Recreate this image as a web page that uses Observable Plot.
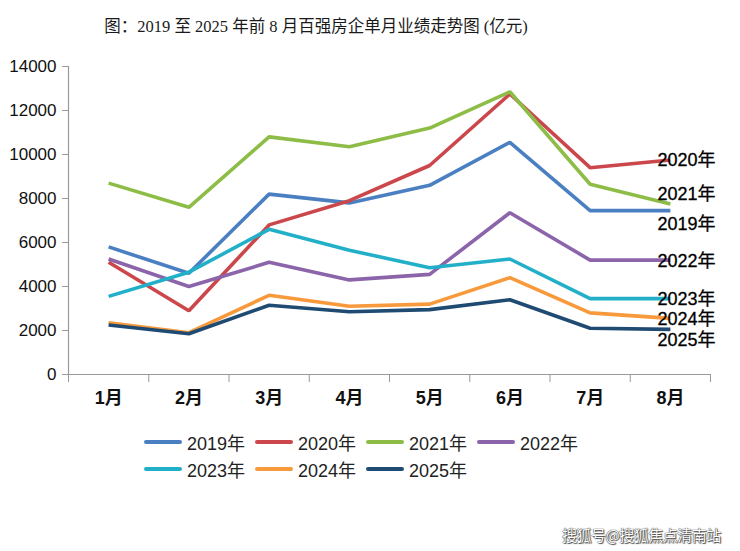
<!DOCTYPE html>
<html>
<head>
<meta charset="utf-8">
<script src="https://cdn.jsdelivr.net/npm/d3@7"></script>
<script src="https://cdn.jsdelivr.net/npm/@observablehq/plot@0.6"></script>
<style>
  html, body { margin: 0; padding: 0; background: #fff; }
  #wrap { position: relative; width: 740px; height: 551px; overflow: hidden; }
  #title { position: absolute; left: 0; width: 632px; top: 13px; text-align: center;
    font-family: "Liberation Serif", "DejaVu Serif", "Noto Sans CJK SC", serif; font-size: 16.5px; color: #1a1a1a; }
  #chart { position: absolute; left: 0; top: 0; }
  #legend { position: absolute; left: 144px; top: 428px; font-family: "Liberation Sans", Arial, "Noto Sans CJK SC", sans-serif; font-size: 18px; color: #222; }
  .row { display: flex; height: 27px; align-items: center; }
  .item { display: flex; align-items: center; width: 111px; }
  .sw { width: 38px; height: 4px; border-radius: 2px; margin-right: 5px; }
  #wm { position: absolute; left: 562px; top: 524px; font-family: "Noto Sans CJK SC", sans-serif; font-size: 15px;
    color: #fff; letter-spacing: -0.5px; text-shadow: 0 0 1px #333, 0 0 1px #333, 1px 1px 1px #555; }
</style>
</head>
<body>
<div id="wrap">
  <div id="chart"></div>
  <div id="title">图：2019 至 2025 年前 8 月百强房企单月业绩走势图 (亿元)</div>
  <div id="legend"></div>
  <div id="wm">搜狐号@搜狐焦点清南站</div>
</div>
<script>
const months = ["1月","2月","3月","4月","5月","6月","7月","8月"];
const years = ["2019年","2020年","2021年","2022年","2023年","2024年","2025年"];
const colors = ["#4a80c2","#cb474b","#8dbd46","#8b64a9","#22b0c9","#f89a3b","#1f4b73"];
const v2019 = [5800, 4600, 8200, 7800, 8600, 10550, 7450, 7450];
const v2020 = [5100, 2900, 6800, 7900, 9500, 12750, 9400, 9750];
const v2021 = [8700, 7600, 10800, 10350, 11200, 12850, 8650, 7750];
const v2022 = [5250, 4000, 5100, 4300, 4550, 7350, 5200, 5200];
const v2023 = [3550, 4650, 6600, 5650, 4850, 5250, 3450, 3450];
const v2024 = [2350, 1900, 3600, 3100, 3200, 4400, 2800, 2550];
const v2025 = [2250, 1850, 3150, 2850, 2950, 3400, 2100, 2050];
const yTicks = [0, 2000, 4000, 6000, 8000, 10000, 12000, 14000];
const series = [v2019, v2020, v2021, v2022, v2023, v2024, v2025];
// label vertical offsets (style)
const labelDy = [14, 0, -10, 1, 1, 1, 11];

const data = [];
series.forEach((vals, si) => vals.forEach((v, mi) => data.push({year: years[si], m: mi + 1, month: months[mi], v})));
const last = years.map((y, i) => ({year: y, m: months.length, v: series[i][months.length - 1]}));

const boundaries = d3.range(0.5, months.length + 1, 1);
const centers = d3.range(1, months.length + 1);

const labelMarks = last.map((d, i) => Plot.text([d], {
  x: "m", y: "v", text: "year", dx: -13, dy: labelDy[i], textAnchor: "start",
  fill: "#000", stroke: "#000", strokeWidth: 0.3, fontSize: 18, fontFamily: "Liberation Sans, Arial, Noto Sans CJK SC, sans-serif"
}));

const plot = Plot.plot({
  width: 740,
  height: 420,
  marginLeft: 68,
  marginRight: 30,
  marginTop: 66,
  marginBottom: 46,
  style: {fontFamily: "Liberation Sans, Arial, Noto Sans CJK SC, sans-serif", background: "transparent"},
  x: {type: "linear", domain: [0.5, months.length + 0.5]},
  y: {domain: [0, 14000]},
  color: {domain: years, range: colors},
  marks: [
    Plot.ruleX([0.5], {stroke: "#999", strokeWidth: 1.2}),
    Plot.ruleY([0], {stroke: "#999", strokeWidth: 1.2}),
    Plot.axisY({ticks: yTicks, tickSize: 6, tickPadding: 6, tickFormat: d => String(d), fontSize: 17, stroke: "#999", fill: "#111", label: null}),
    Plot.axisX({ticks: boundaries, tickSize: 8, tickFormat: () => "", stroke: "#999", label: null}),
    Plot.axisX({ticks: centers, tickSize: 0, tickPadding: 17, tickFormat: d => months[d - 1], fontSize: 18, fontWeight: "bold", fill: "#111", label: null}),
    Plot.line(data, {x: "m", y: "v", z: "year", stroke: "year", strokeWidth: 3.6, strokeLinejoin: "miter", strokeLinecap: "butt"}),
    ...labelMarks
  ]
});
document.getElementById("chart").appendChild(plot);

const legend = document.getElementById("legend");
const rows = [years.slice(0, 4), years.slice(4)];
rows.forEach(r => {
  const row = document.createElement("div");
  row.className = "row";
  r.forEach(y => {
    const it = document.createElement("div");
    it.className = "item";
    const sw = document.createElement("div");
    sw.className = "sw";
    sw.style.background = colors[years.indexOf(y)];
    const t = document.createElement("span");
    t.textContent = y;
    it.appendChild(sw); it.appendChild(t);
    row.appendChild(it);
  });
  legend.appendChild(row);
});
</script>
</body>
</html>
